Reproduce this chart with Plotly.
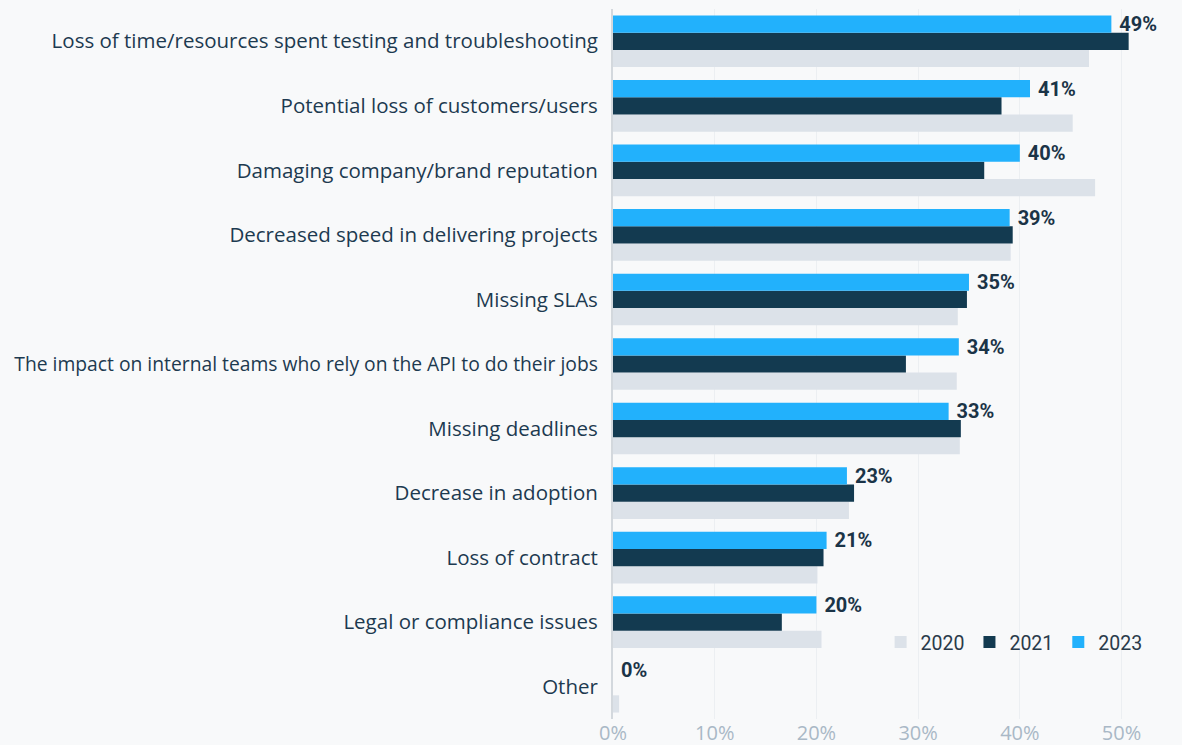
import plotly.graph_objects as go

# Survey categories, top to bottom
categories = [
    "Loss of time/resources spent testing and troubleshooting",
    "Potential loss of customers/users",
    "Damaging company/brand reputation",
    "Decreased speed in delivering projects",
    "Missing SLAs",
    "The impact on internal teams who rely on the API to do their jobs",
    "Missing deadlines",
    "Decrease in adoption",
    "Loss of contract",
    "Legal or compliance issues",
    "Other",
]

# Share of respondents (%)
values_2020 = [46.8, 45.2, 47.4, 39.1, 33.9, 33.8, 34.1, 23.2, 20.1, 20.5, 0.6]
values_2021 = [50.7, 38.2, 36.5, 39.3, 34.8, 28.8, 34.2, 23.7, 20.7, 16.6, 0.0]
values_2023 = [49, 41, 40, 39, 35, 34, 33, 23, 21, 20, 0]

x_ticks = [0, 10, 20, 30, 40, 50]
x_tick_labels = ["0%", "10%", "20%", "30%", "40%", "50%"]

# The longest category name is set slightly smaller so it fits the left margin
y_tick_text = [
    f'<span style="font-size:19.3px">{c}</span>' if len(c) > 60 else c
    for c in categories
]

fig = go.Figure()

fig.add_trace(go.Bar(
    name="2020", y=categories, x=values_2020, orientation="h",
    marker=dict(color="#dce2e9", line=dict(width=0)),
))
fig.add_trace(go.Bar(
    name="2021", y=categories, x=values_2021, orientation="h",
    marker=dict(color="#133a50", line=dict(width=0)),
))
fig.add_trace(go.Bar(
    name="2023", y=categories, x=values_2023, orientation="h",
    marker=dict(color="#22b1fc", line=dict(width=0)),
    text=[f" {v:g}%" for v in values_2023],
    textposition="outside",
    constraintext="none",
    textfont=dict(family="Roboto", size=20, color="#1b3447", weight="bold"),
    cliponaxis=False,
))

fig.update_layout(
    width=1182, height=745,
    margin=dict(l=613, r=15, t=9, b=26),
    paper_bgcolor="#f8f9fa",
    plot_bgcolor="#f8f9fa",
    barmode="group",
    bargap=0.2,
    bargroupgap=0,
    showlegend=True,
    legend=dict(
        orientation="h",
        x=0.965, xanchor="right",
        y=0.108, yanchor="middle",
        bgcolor="rgba(0,0,0,0)",
        font=dict(family="Roboto", size=19.5, color="#2a3b4a"),
        itemwidth=30,
        traceorder="normal",
    ),
    xaxis=dict(
        range=[0, 54.47],
        tickvals=x_ticks,
        ticktext=x_tick_labels,
        showgrid=True,
        gridcolor="#eceff2",
        gridwidth=1,
        zeroline=False,
        showline=False,
        automargin=False,
        tickfont=dict(family="Open Sans", size=20, color="#a9b8c6"),
        ticks="",
    ),
    yaxis=dict(
        categoryorder="array",
        categoryarray=categories[::-1],
        tickvals=categories,
        ticktext=y_tick_text,
        showline=True,
        linecolor="#d3d8dd",
        linewidth=2,
        ticks="",
        automargin=False,
        ticklabelstandoff=9,
        tickfont=dict(family="Open Sans", size=20.5, color="#1d3a50"),
        showgrid=False,
    ),
)

fig.write_html("out.html")
